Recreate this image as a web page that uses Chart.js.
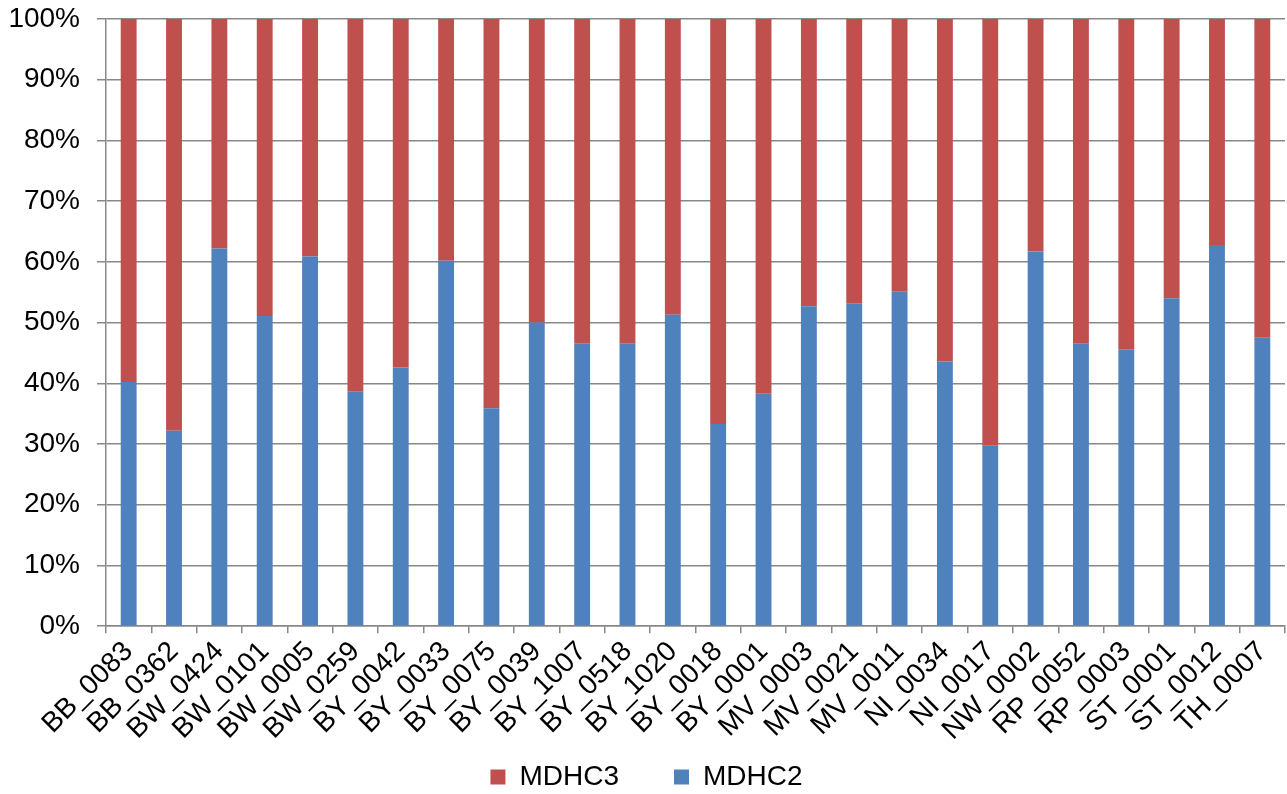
<!DOCTYPE html>
<html>
<head>
<meta charset="utf-8">
<script src="https://cdn.jsdelivr.net/npm/chart.js@4"></script>
<style>
  body { margin: 0; background: #fff; }
  #wrap { width: 1287px; height: 794px; }
</style>
</head>
<body>
<div id="wrap"><canvas id="bar-chart" width="1287" height="794"></canvas></div>
<script>
// Chart data
const samples = ["BB_0083", "BB_0362", "BW_0424", "BW_0101", "BW_0005", "BW_0259", "BY_0042",
    "BY_0033", "BY_0075", "BY_0039", "BY_1007", "BY_0518", "BY_1020", "BY_0018", "BY_0001",
    "MV_0003", "MV_0021", "MV_0011", "NI_0034", "NI_0017", "NW_0002", "RP_0052", "RP_0003",
    "ST_0001", "ST_0012", "TH_0007"];
const mdhc2 = [40.2, 32.2, 62.2, 51.1, 60.9, 38.6, 42.6, 60.2, 35.9, 50.0, 46.6, 46.6, 51.3,
    33.3, 38.3, 52.7, 53.2, 55.1, 43.6, 29.7, 61.7, 46.5, 45.6, 54.0, 62.8, 47.5];
const mdhc3 = [59.8, 67.8, 37.8, 48.9, 39.1, 61.4, 57.4, 39.8, 64.1, 50.0, 53.4, 53.4, 48.7,
    66.7, 61.7, 47.3, 46.8, 44.9, 56.4, 70.3, 38.3, 53.5, 54.4, 46.0, 37.2, 52.5];
const yTicks = [0, 10, 20, 30, 40, 50, 60, 70, 80, 90, 100];

const axisFont = {family: "'Liberation Sans', Arial, sans-serif", size: 28};
const legendGap = 55;

// the legend keeps a wide gap between items but sits close under the axis labels
const legendSpacing = {
    id: 'legendSpacing',
    beforeLayout(chart) {
        const legend = chart.legend;
        if (!legend || legend._squeezed) return;
        const fit = legend.fit;
        legend.fit = function () {
            fit.call(this);
            this.height = 45;
        };
        legend._squeezed = true;
    },
    afterLayout(chart) {
        const legend = chart.legend;
        legend.top = 777 - 14 - legendGap;
        legend.bottom = chart.height;
        legend.height = legend.bottom - legend.top;
    }
};

new Chart(document.getElementById("bar-chart"), {
    type: 'bar',
    data: {
        labels: samples,
        datasets: [
            {
                label: "MDHC2",
                backgroundColor: "#4f81bd",
                data: mdhc2
            },
            {
                label: "MDHC3",
                backgroundColor: "#c0504d",
                data: mdhc3
            }
        ]
    },
    options: {
        responsive: false,
        animation: false,
        barPercentage: 0.35,
        categoryPercentage: 1,
        layout: {padding: {left: 8, right: 2, top: 19, bottom: 0}},
        plugins: {
            legend: {
                position: 'bottom',
                reverse: true,
                labels: {
                    font: axisFont,
                    color: '#000',
                    boxWidth: 15,
                    boxHeight: 15,
                    padding: legendGap
                }
            },
            tooltip: {enabled: false}
        },
        scales: {
            x: {
                stacked: true,
                // first rotated label fits left of the axis anyway
                afterFit: (scale) => {
                    scale.paddingLeft = 0;
                    scale.paddingRight = 0;
                    scale.paddingTop = 0;
                },
                grid: {
                    offset: true,
                    drawOnChartArea: false,
                    color: '#888',
                    lineWidth: 1.5,
                    tickLength: 7
                },
                border: {color: '#888', width: 1.5},
                ticks: {
                    font: axisFont,
                    color: '#000',
                    padding: 2,
                    maxRotation: 45,
                    minRotation: 45,
                    autoSkip: false
                }
            },
            y: {
                stacked: true,
                min: 0,
                max: 100,
                afterBuildTicks: (axis) => {
                    axis.ticks = yTicks.map(v => ({value: v}));
                },
                afterFit: (scale) => {
                    scale.paddingTop = 0;
                    scale.width = 98;
                },
                grid: {
                    color: '#888',
                    lineWidth: 1.5,
                    tickLength: 9
                },
                border: {color: '#888', width: 1.5},
                ticks: {
                    font: axisFont,
                    color: '#000',
                    padding: 17,
                    callback: (v) => v + '%'
                }
            }
        }
    },
    plugins: [legendSpacing]
});
</script>
</body>
</html>
